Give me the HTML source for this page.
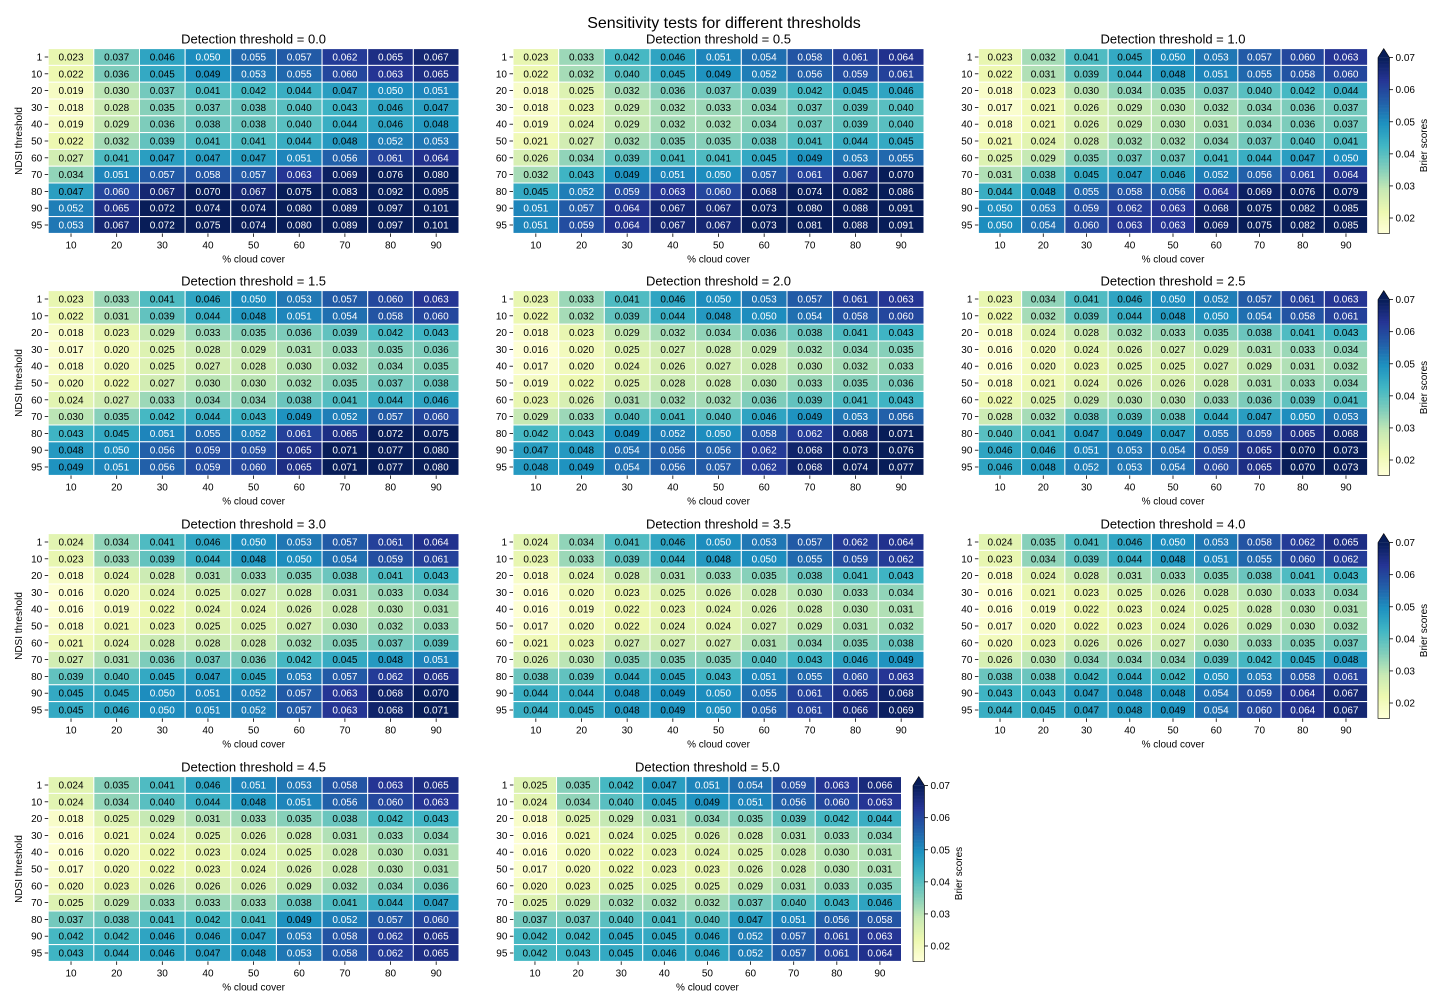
<!DOCTYPE html>
<html><head><meta charset="utf-8"><style>
body{margin:0;background:#fff;}
svg{display:block;font-family:"Liberation Sans","DejaVu Sans",sans-serif;}
</style></head><body>
<svg id="fig" width="1448" height="1008" viewBox="0 0 1448 1008" xmlns="http://www.w3.org/2000/svg">
<rect width="1448" height="1008" fill="#fff"/>
<text x="724" y="28" font-size="16" text-anchor="middle">Sensitivity tests for different thresholds</text>
</svg>
<script>
const thresholds = ["0.0","0.5","1.0","1.5","2.0","2.5","3.0","3.5","4.0","4.5","5.0"];
const cloudCover = [10,20,30,40,50,60,70,80,90];
const ndsiLevels = [1,10,20,30,40,50,60,70,80,90,95];
const cbarTicks = [0.02,0.03,0.04,0.05,0.06,0.07];
const vmin = 0.0152, vmax = 0.07;

const p00 = [[.023,.037,.046,.050,.055,.057,.062,.065,.067],[.022,.036,.045,.049,.053,.055,.060,.063,.065],[.019,.030,.037,.041,.042,.044,.047,.050,.051],[.018,.028,.035,.037,.038,.040,.043,.046,.047],[.019,.029,.036,.038,.038,.040,.044,.046,.048],[.022,.032,.039,.041,.041,.044,.048,.052,.053],[.027,.041,.047,.047,.047,.051,.056,.061,.064],[.034,.051,.057,.058,.057,.063,.069,.076,.080],[.047,.060,.067,.070,.067,.075,.083,.092,.095],[.052,.065,.072,.074,.074,.080,.089,.097,.101],[.053,.067,.072,.075,.074,.080,.089,.097,.101]];
const p05 = [[.023,.033,.042,.046,.051,.054,.058,.061,.064],[.022,.032,.040,.045,.049,.052,.056,.059,.061],[.018,.025,.032,.036,.037,.039,.042,.045,.046],[.018,.023,.029,.032,.033,.034,.037,.039,.040],[.019,.024,.029,.032,.032,.034,.037,.039,.040],[.021,.027,.032,.035,.035,.038,.041,.044,.045],[.026,.034,.039,.041,.041,.045,.049,.053,.055],[.032,.043,.049,.051,.050,.057,.061,.067,.070],[.045,.052,.059,.063,.060,.068,.074,.082,.086],[.051,.057,.064,.067,.067,.073,.080,.088,.091],[.051,.059,.064,.067,.067,.073,.081,.088,.091]];
const p10 = [[.023,.032,.041,.045,.050,.053,.057,.060,.063],[.022,.031,.039,.044,.048,.051,.055,.058,.060],[.018,.023,.030,.034,.035,.037,.040,.042,.044],[.017,.021,.026,.029,.030,.032,.034,.036,.037],[.018,.021,.026,.029,.030,.031,.034,.036,.037],[.021,.024,.028,.032,.032,.034,.037,.040,.041],[.025,.029,.035,.037,.037,.041,.044,.047,.050],[.031,.038,.045,.047,.046,.052,.056,.061,.064],[.044,.048,.055,.058,.056,.064,.069,.076,.079],[.050,.053,.059,.062,.063,.068,.075,.082,.085],[.050,.054,.060,.063,.063,.069,.075,.082,.085]];
const p15 = [[.023,.033,.041,.046,.050,.053,.057,.060,.063],[.022,.031,.039,.044,.048,.051,.054,.058,.060],[.018,.023,.029,.033,.035,.036,.039,.042,.043],[.017,.020,.025,.028,.029,.031,.033,.035,.036],[.018,.020,.025,.027,.028,.030,.032,.034,.035],[.020,.022,.027,.030,.030,.032,.035,.037,.038],[.024,.027,.033,.034,.034,.038,.041,.044,.046],[.030,.035,.042,.044,.043,.049,.052,.057,.060],[.043,.045,.051,.055,.052,.061,.065,.072,.075],[.048,.050,.056,.059,.059,.065,.071,.077,.080],[.049,.051,.056,.059,.060,.065,.071,.077,.080]];
const p20 = [[.023,.033,.041,.046,.050,.053,.057,.061,.063],[.022,.032,.039,.044,.048,.050,.054,.058,.060],[.018,.023,.029,.032,.034,.036,.038,.041,.043],[.016,.020,.025,.027,.028,.029,.032,.034,.035],[.017,.020,.024,.026,.027,.028,.030,.032,.033],[.019,.022,.025,.028,.028,.030,.033,.035,.036],[.023,.026,.031,.032,.032,.036,.039,.041,.043],[.029,.033,.040,.041,.040,.046,.049,.053,.056],[.042,.043,.049,.052,.050,.058,.062,.068,.071],[.047,.048,.054,.056,.056,.062,.068,.073,.076],[.048,.049,.054,.056,.057,.062,.068,.074,.077]];
const p25 = [[.023,.034,.041,.046,.050,.052,.057,.061,.063],[.022,.032,.039,.044,.048,.050,.054,.058,.061],[.018,.024,.028,.032,.033,.035,.038,.041,.043],[.016,.020,.024,.026,.027,.029,.031,.033,.034],[.016,.020,.023,.025,.025,.027,.029,.031,.032],[.018,.021,.024,.026,.026,.028,.031,.033,.034],[.022,.025,.029,.030,.030,.033,.036,.039,.041],[.028,.032,.038,.039,.038,.044,.047,.050,.053],[.040,.041,.047,.049,.047,.055,.059,.065,.068],[.046,.046,.051,.053,.054,.059,.065,.070,.073],[.046,.048,.052,.053,.054,.060,.065,.070,.073]];
const p30 = [[.024,.034,.041,.046,.050,.053,.057,.061,.064],[.023,.033,.039,.044,.048,.050,.054,.059,.061],[.018,.024,.028,.031,.033,.035,.038,.041,.043],[.016,.020,.024,.025,.027,.028,.031,.033,.034],[.016,.019,.022,.024,.024,.026,.028,.030,.031],[.018,.021,.023,.025,.025,.027,.030,.032,.033],[.021,.024,.028,.028,.028,.032,.035,.037,.039],[.027,.031,.036,.037,.036,.042,.045,.048,.051],[.039,.040,.045,.047,.045,.053,.057,.062,.065],[.045,.045,.050,.051,.052,.057,.063,.068,.070],[.045,.046,.050,.051,.052,.057,.063,.068,.071]];
const p35 = [[.024,.034,.041,.046,.050,.053,.057,.062,.064],[.023,.033,.039,.044,.048,.050,.055,.059,.062],[.018,.024,.028,.031,.033,.035,.038,.041,.043],[.016,.020,.023,.025,.026,.028,.030,.033,.034],[.016,.019,.022,.023,.024,.026,.028,.030,.031],[.017,.020,.022,.024,.024,.027,.029,.031,.032],[.021,.023,.027,.027,.027,.031,.034,.035,.038],[.026,.030,.035,.035,.035,.040,.043,.046,.049],[.038,.039,.044,.045,.043,.051,.055,.060,.063],[.044,.044,.048,.049,.050,.055,.061,.065,.068],[.044,.045,.048,.049,.050,.056,.061,.066,.069]];
const p40 = [[.024,.035,.041,.046,.050,.053,.058,.062,.065],[.023,.034,.039,.044,.048,.051,.055,.060,.062],[.018,.024,.028,.031,.033,.035,.038,.041,.043],[.016,.021,.023,.025,.026,.028,.030,.033,.034],[.016,.019,.022,.023,.024,.025,.028,.030,.031],[.017,.020,.022,.023,.024,.026,.029,.030,.032],[.020,.023,.026,.026,.027,.030,.033,.035,.037],[.026,.030,.034,.034,.034,.039,.042,.045,.048],[.038,.038,.042,.044,.042,.050,.053,.058,.061],[.043,.043,.047,.048,.048,.054,.059,.064,.067],[.044,.045,.047,.048,.049,.054,.060,.064,.067]];
const p45 = [[.024,.035,.041,.046,.051,.053,.058,.063,.065],[.024,.034,.040,.044,.048,.051,.056,.060,.063],[.018,.025,.029,.031,.033,.035,.038,.042,.043],[.016,.021,.024,.025,.026,.028,.031,.033,.034],[.016,.020,.022,.023,.024,.025,.028,.030,.031],[.017,.020,.022,.023,.024,.026,.028,.030,.031],[.020,.023,.026,.026,.026,.029,.032,.034,.036],[.025,.029,.033,.033,.033,.038,.041,.044,.047],[.037,.038,.041,.042,.041,.049,.052,.057,.060],[.042,.042,.046,.046,.047,.053,.058,.062,.065],[.043,.044,.046,.047,.048,.053,.058,.062,.065]];
const p50 = [[.025,.035,.042,.047,.051,.054,.059,.063,.066],[.024,.034,.040,.045,.049,.051,.056,.060,.063],[.018,.025,.029,.031,.034,.035,.039,.042,.044],[.016,.021,.024,.025,.026,.028,.031,.033,.034],[.016,.020,.022,.023,.024,.025,.028,.030,.031],[.017,.020,.022,.023,.023,.026,.028,.030,.031],[.020,.023,.025,.025,.025,.029,.031,.033,.035],[.025,.029,.032,.032,.032,.037,.040,.043,.046],[.037,.037,.040,.041,.040,.047,.051,.056,.058],[.042,.042,.045,.045,.046,.052,.057,.061,.063],[.042,.043,.045,.046,.046,.052,.057,.061,.064]];
const panelData = [p00,p05,p10,p15,p20,p25,p30,p35,p40,p45,p50];

const layout = [
 [48.2,459,48.6],[513,924,48.6],[978.4,1367.6,48.6],
 [48.2,459,290.6],[513,924,290.6],[978.4,1367.6,290.6],
 [48.2,459,533.6],[513,924,533.6],[978.4,1367.6,533.6],
 [48.2,459,776.6],[513.4,901.5,776.6]];
const H = 184.8;
const cbars = [[1378,48.6],[1378,290.6],[1378,533.6],[913,776.6]];

const stops = ["#ffffd9","#edf8b1","#c7e9b4","#7fcdbb","#41b6c4","#1d91c0","#225ea8","#253494","#081d58"].map(h=>[1,3,5].map(i=>parseInt(h.substr(i,2),16)));
function cmap(v){
  let t=(v-vmin)/(vmax-vmin); t=Math.max(0,Math.min(1,t));
  const p=t*(stops.length-1), i=Math.min(Math.floor(p),stops.length-2), f=p-i;
  return stops[i].map((c,k)=>Math.round(c+(stops[i+1][k]-c)*f));
}
const NS="http://www.w3.org/2000/svg";
const svg=document.getElementById('fig');
function mk(tag,attrs,parent,txt){const e=document.createElementNS(NS,tag);for(const k in attrs)e.setAttribute(k,attrs[k]);if(txt!==undefined)e.textContent=txt;(parent||svg).appendChild(e);return e;}

panelData.forEach((data,pi)=>{
  const [x0,x1,y0]=layout[pi];
  const g=mk('g',{});
  
  
  const cw=(x1-x0)/cloudCover.length, rh=H/ndsiLevels.length;
  const xs=j=>x0+j*cw, ys=i=>y0+i*rh;
  const t=mk('text',{x:(x0+x1)/2,y:y0-5,'font-size':13,'text-anchor':'middle'},g,'Detection threshold = '+thresholds[pi]);
  
  
  data.forEach((row,i)=>row.forEach((v,j)=>{
    const col=cmap(v);
    const r=mk('rect',{x:xs(j),y:ys(i),width:cw,height:rh,fill:'rgb('+col.join(',')+')',stroke:'#fff','stroke-width':1},g);
    
    
    const tx=mk('text',{x:xs(j)+cw/2,y:ys(i)+rh/2+3.5,'font-size':10,'text-anchor':'middle',fill:v>=0.0495?'#fff':'#000'},g,v.toFixed(3));
    
    
  }));
  ndsiLevels.forEach((n,i)=>{
    const yc=ys(i)+rh/2;
    mk('line',{x1:x0-3.5,x2:x0,y1:yc,y2:yc,stroke:'#000','stroke-width':0.8},g);
    const l=mk('text',{x:x0-6,y:yc+3.5,'font-size':10,'text-anchor':'end'},g,n);
    
    
  });
  cloudCover.forEach((c,j)=>{
    const xc=xs(j)+cw/2;
    mk('line',{x1:xc,x2:xc,y1:y0+H,y2:y0+H+3.5,stroke:'#000','stroke-width':0.8},g);
    const l=mk('text',{x:xc,y:y0+H+15,'font-size':10,'text-anchor':'middle'},g,c);
    
    
  });
  const xl=mk('text',{x:(x0+x1)/2,y:y0+H+29,'font-size':10,'text-anchor':'middle'},g,'% cloud cover');
  
  
  if(pi%3===0){
    const yc=y0+H/2;
    const yl=mk('text',{x:22,y:yc,'font-size':10,'text-anchor':'middle',transform:'rotate(-90 22 '+yc+')'},g,'NDSI threshold');
    
    
  }
});

cbars.forEach(([cx,top])=>{
  const g=mk('g',{});
  
  
  const w=11.5, bot=top+H, rtop=top+9;
  const cy=v=>bot-(v-vmin)/(vmax-vmin)*(bot-rtop);
  for(let k=0;k<100;k++){
    const v=vmin+(vmax-vmin)*(k+0.5)/100;
    const ya=cy(vmin+(vmax-vmin)*(k+1)/100), yb=cy(vmin+(vmax-vmin)*k/100);
    mk('rect',{x:cx,y:ya,width:w,height:yb-ya+0.3,fill:'rgb('+cmap(v).join(',')+')'},g);
  }
  mk('polygon',{points:`${cx},${rtop} ${cx+w/2},${top} ${cx+w},${rtop}`,fill:'#081d58'},g);
  mk('path',{d:`M${cx},${bot} L${cx},${rtop} L${cx+w/2},${top} L${cx+w},${rtop} L${cx+w},${bot} Z`,fill:'none',stroke:'#000','stroke-width':0.6},g);
  cbarTicks.forEach(v=>{
    const y=cy(v);
    mk('line',{x1:cx+w,x2:cx+w+3.5,y1:y,y2:y,stroke:'#000','stroke-width':0.8},g);
    const l=mk('text',{x:cx+w+6,y:y+3.5,'font-size':10},g,v.toFixed(2));
    
    
  });
  const lx=cx+49, ly=(rtop+bot)/2;
  const lb=mk('text',{x:lx,y:ly,'font-size':10,'text-anchor':'middle',transform:`rotate(-90 ${lx} ${ly})`},g,'Brier scores');
  
  
});
</script>
</body></html>
